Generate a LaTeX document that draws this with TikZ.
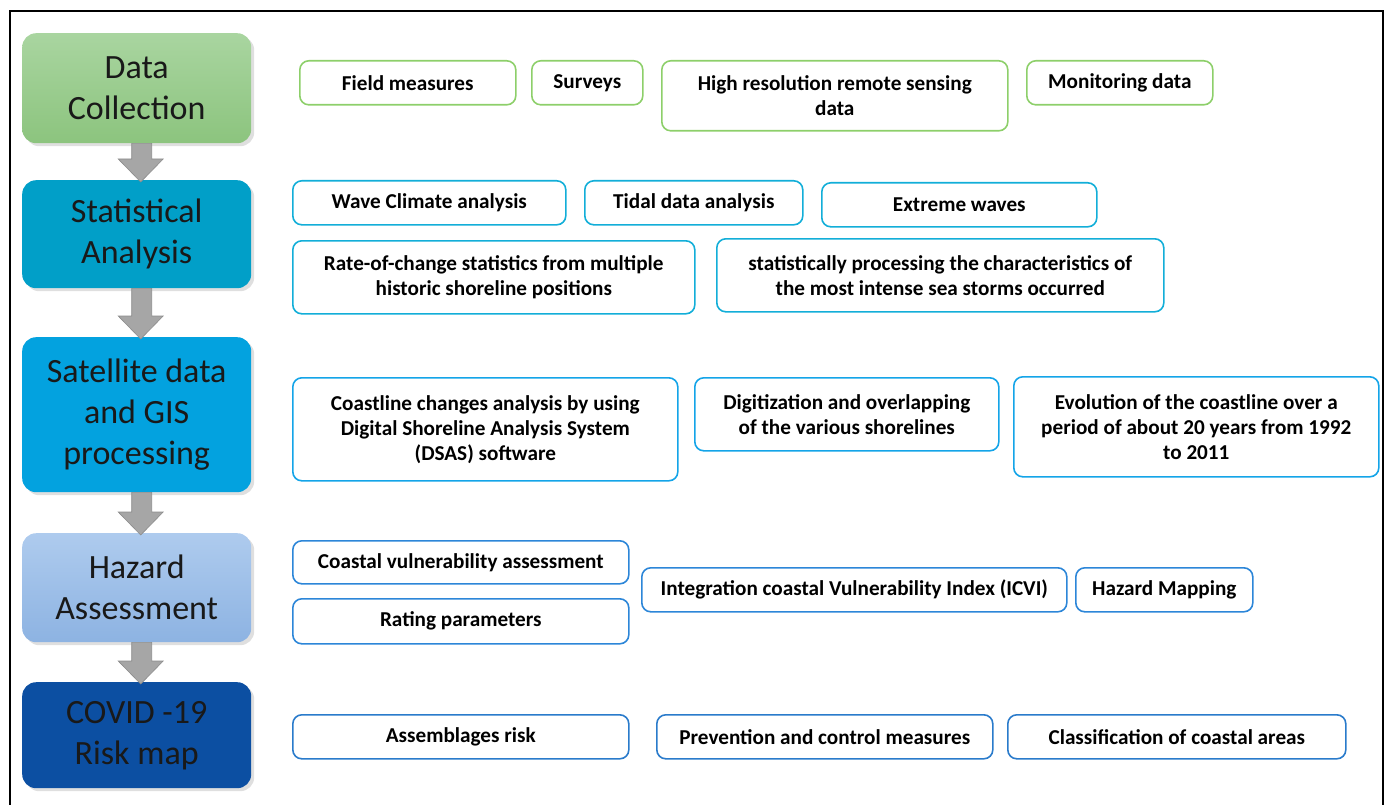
\documentclass[tikz,border=0pt]{standalone}
\usepackage{fontspec}
\setmainfont{Carlito}
\usetikzlibrary{calc,shadows}
\definecolor{dctop}{HTML}{A9D5A0}
\definecolor{dcbot}{HTML}{8CC47E}
\definecolor{safill}{HTML}{019FC8}
\definecolor{sgfill}{HTML}{03A2DF}
\definecolor{hztop}{HTML}{AECBEE}
\definecolor{hzbot}{HTML}{8DB3E2}
\definecolor{cvfill}{HTML}{0C4FA2}
\definecolor{rowgreen}{HTML}{8DCF6A}
\definecolor{rowteal}{HTML}{12AED8}
\definecolor{rowblue}{HTML}{14A4E8}
\definecolor{rowmid}{HTML}{2C86D8}
\definecolor{rowdark}{HTML}{2A7BCB}
\definecolor{arrowgray}{HTML}{A6A6A6}
\begin{document}
\begin{tikzpicture}[x=1pt,y=-1pt,
  stage/.style={rounded corners=14pt,anchor=north west,align=center,inner sep=0pt,
    minimum width=229pt,text=black!90,font=\fontsize{34}{41}\selectfont,
    drop shadow={opacity=0.25,shadow xshift=3pt,shadow yshift=-3pt}},
  item/.style={draw,line width=1.6pt,rounded corners=9pt,anchor=north west,align=center,
    inner sep=0pt,font=\bfseries\fontsize{21.2}{25}\selectfont},
  flowarrow/.style={fill=arrowgray,draw=black!45,line width=0.6pt}]
\useasboundingbox (0,0) rectangle (1391,805);
\draw[line width=2.8pt] (10,815) -- (10,11) -- (1383,11) -- (1383,815);

\node[stage,top color=dctop,bottom color=dcbot,minimum height=110pt] (datacoll) at (22,33) {Data\\Collection};
\node[stage,fill=safill,minimum height=108pt] (statana) at (22,180) {Statistical\\Analysis};
\node[stage,fill=sgfill,minimum height=155pt] (satgis) at (22,337) {Satellite data\\and GIS\\processing};
\node[stage,top color=hztop,bottom color=hzbot,minimum height=109pt] (hazard) at (22,533) {Hazard\\Assessment};
\node[stage,fill=cvfill,minimum height=106pt] (covid) at (22,682) {COVID -19\\Risk map};

\foreach \a/\b in {datacoll/statana,statana/satgis,satgis/hazard,hazard/covid}
  \draw[flowarrow] ($(\a.south)+(-5,0)$) -- ($(\a.south)+(15,0)$) -- ($(\b.north)+(15,-21)$)
    -- ($(\b.north)+(26.5,-21)$) -- ($(\b.north)+(4,2)$) -- ($(\b.north)+(-18.5,-21)$)
    -- ($(\b.north)+(-5,-21)$) -- cycle;

\node[item,draw=rowgreen,minimum width=216pt,minimum height=44pt] (fieldm) at (299,60) {Field measures};
\node[item,draw=rowgreen,minimum width=111pt,minimum height=44pt] (surveys) at (531,60) {Surveys};
\node[item,draw=rowgreen,minimum width=346pt,minimum height=70pt] (hires) at (661,60) {High resolution remote sensing\\data};
\node[item,draw=rowgreen,minimum width=186pt,minimum height=44pt] (monitor) at (1026,60) {Monitoring data};

\node[item,draw=rowteal,minimum width=273pt,minimum height=44pt] (wave) at (292,180) {Wave Climate analysis};
\node[item,draw=rowteal,minimum width=218pt,minimum height=44pt] (tidal) at (584,180) {Tidal data analysis};
\node[item,draw=rowteal,minimum width=275pt,minimum height=44pt] (extreme) at (821,182) {Extreme waves};
\node[item,draw=rowteal,minimum width=402pt,minimum height=73pt] (rate) at (292,240) {Rate-of-change statistics from multiple\\historic shoreline positions};
\node[item,draw=rowteal,minimum width=447pt,minimum height=73pt] (storms) at (716,238) {statistically processing the characteristics of\\the most intense sea storms occurred};

\node[item,draw=rowblue,minimum width=385pt,minimum height=103pt] (dsas) at (292,377) {Coastline changes analysis by using\\Digital Shoreline Analysis System\\(DSAS) software};
\node[item,draw=rowblue,minimum width=304pt,minimum height=73pt] (digit) at (694,377) {Digitization and overlapping\\of the various shorelines};
\node[item,draw=rowblue,minimum width=365pt,minimum height=100pt] (evol) at (1013,376) {Evolution of the coastline over a\\period of about 20 years from 1992\\to 2011};

\node[item,draw=rowmid,minimum width=336pt,minimum height=43pt] (cva) at (292,540) {Coastal vulnerability assessment};
\node[item,draw=rowmid,minimum width=336pt,minimum height=45pt] (rating) at (292,598) {Rating parameters};
\node[item,draw=rowmid,minimum width=425pt,minimum height=44pt] (icvi) at (641,567) {Integration coastal Vulnerability Index (ICVI)};
\node[item,draw=rowmid,minimum width=177pt,minimum height=44pt] (hazmap) at (1075,567) {Hazard Mapping};

\node[item,draw=rowdark,minimum width=336pt,minimum height=44pt] (assem) at (292,714) {Assemblages risk};
\node[item,draw=rowdark,minimum width=336pt,minimum height=44pt] (prevent) at (656,714) {Prevention and control measures};
\node[item,draw=rowdark,minimum width=338pt,minimum height=44pt] (classif) at (1007,714) {Classification of coastal areas};
\end{tikzpicture}
\end{document}
